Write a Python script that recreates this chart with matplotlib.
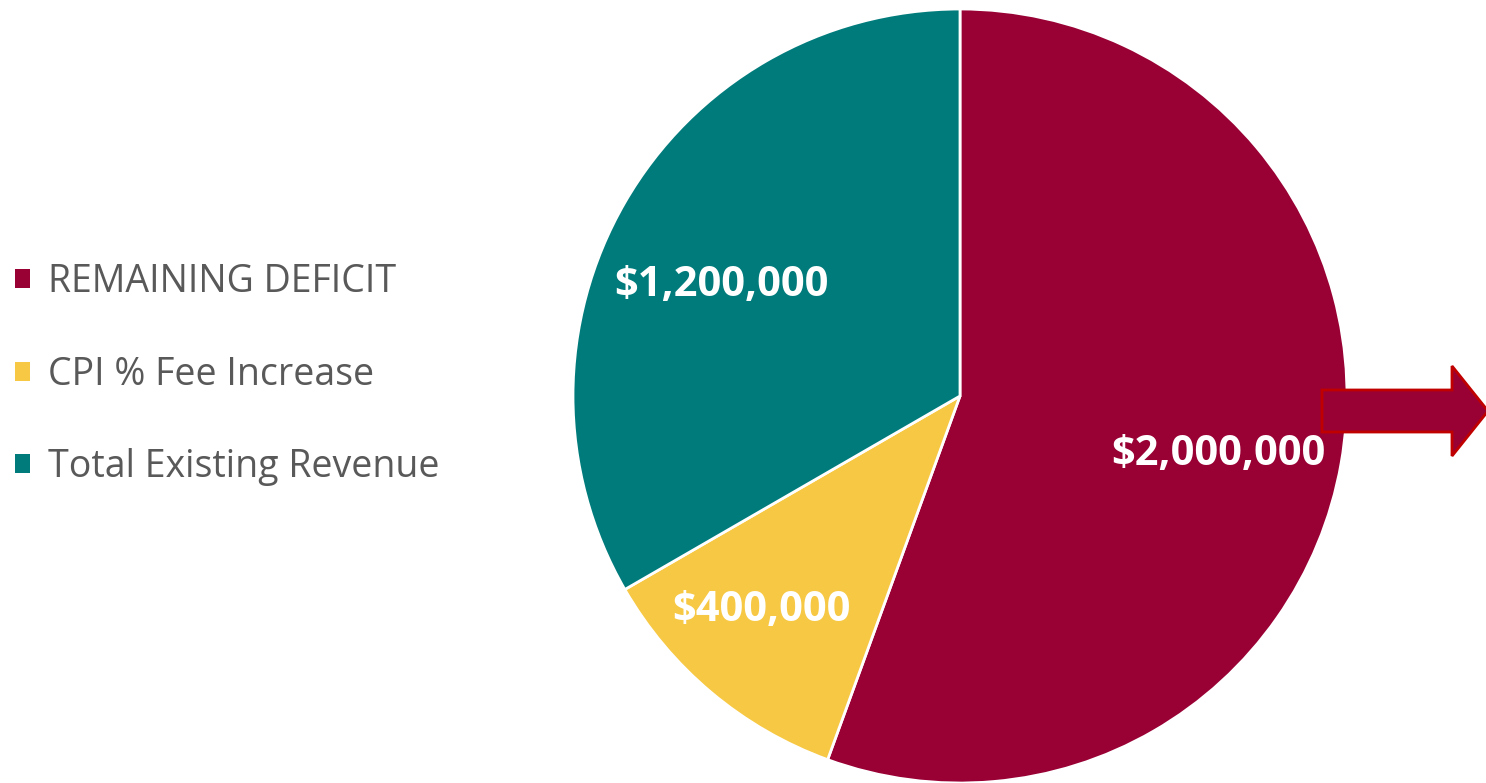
import matplotlib
matplotlib.use("Agg")
import matplotlib.pyplot as plt
import matplotlib.patches as mpatches
import numpy as np

categories = ["REMAINING DEFICIT", "CPI % Fee Increase", "Total Existing Revenue"]
values = [2000000, 400000, 1200000]
colors = ["#990033", "#F7C843", "#007B7B"]

# label placement (polar, relative to pie centre): angle in degrees, fraction of radius
label_angles = [-12.8, -132.8, 155.2]
label_radii = [0.684, 0.755, 0.68]

plt.rcParams['font.family'] = ['Open Sans', 'DejaVu Sans']

fig = plt.figure(figsize=(14.86, 7.83), dpi=100)
ax = fig.add_axes([0, 0, 1, 1])

cx, cy, R = 960, 387, 387
wedges, texts, autotexts = ax.pie(
    values, colors=colors, startangle=90, counterclock=False,
    center=(cx, cy), radius=R, frame=True,
    autopct=lambda p: "${:,.0f}".format(p * sum(values) / 100),
    pctdistance=0.7,
    wedgeprops=dict(edgecolor='white', linewidth=2),
    textprops=dict(color='white', fontsize=30, fontweight='bold'))
for t, a, r in zip(autotexts, label_angles, label_radii):
    t.set_position((cx + r * R * np.cos(np.radians(a)),
                    cy + r * R * np.sin(np.radians(a))))
    t.set_va('center')

ax.set_xlim(0, 1486)
ax.set_ylim(0, 783)
ax.set_aspect('equal')
ax.axis('off')

arrow = mpatches.FancyArrow(1322, 372, 130, 0, width=42, head_width=90,
                            head_length=36, length_includes_head=False,
                            facecolor="#990033", edgecolor="#C00000",
                            linewidth=2, zorder=5)
ax.add_patch(arrow)

leg = ax.legend(wedges, categories, loc='upper left',
                bbox_to_anchor=(-0.0128, 0.707), frameon=False,
                fontsize=27, handlelength=0.4, handleheight=0.4,
                handletextpad=0.48, labelspacing=1.45)
for t in leg.get_texts():
    t.set_color("#595959")
for h in leg.legend_handles:
    h.set_edgecolor('none')

fig.savefig("out.png", dpi=100, facecolor='white')
